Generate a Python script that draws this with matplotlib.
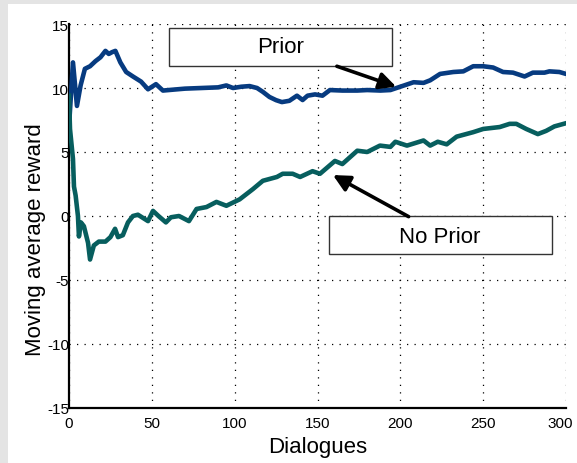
import matplotlib
matplotlib.use("Agg")
import matplotlib.pyplot as plt
import matplotlib.transforms as mtrans
from matplotlib.patches import Rectangle

# ---- data ----
prior_x = [0, 2.4, 4.8, 7, 9.6, 12.7, 16, 19, 22, 24, 26, 28, 31, 34.5, 38.6, 43.5, 47.7,
           52.5, 56.7, 62.8, 70, 80, 90, 95, 99, 104, 109, 113.5, 117, 121, 125, 128.5,
           133, 137.6, 141, 144, 148.5, 153, 157.5, 165, 174, 180, 188, 194, 200, 208,
           214, 218, 224, 232, 238, 244, 250, 256, 262, 268, 275, 280, 287, 290, 296, 300]
prior_y = [7.0, 12.0, 8.6, 10.2, 11.5, 11.7, 12.1, 12.4, 12.9, 12.66, 12.8, 12.9, 12.0,
           11.25, 10.9, 10.5, 9.9, 10.3, 9.8, 9.87, 9.95, 10.0, 10.05, 10.2, 10.0, 10.1,
           10.15, 10.0, 9.7, 9.3, 9.05, 8.9, 9.0, 9.4, 9.06, 9.4, 9.5, 9.4, 9.84, 9.8,
           9.8, 9.84, 9.8, 9.84, 10.1, 10.45, 10.4, 10.6, 11.1, 11.25, 11.3, 11.7, 11.7,
           11.6, 11.25, 11.2, 10.9, 11.2, 11.2, 11.3, 11.25, 11.1]

noprior_x = [0, 0.6, 2.4, 3, 4, 5.4, 6, 7.2, 9, 11.5, 12.7, 15, 18, 22, 25, 27.8, 29.6,
             32.5, 35.6, 38.6, 41.6, 47.7, 50.7, 54, 58.5, 61.5, 66.4, 72.4, 77, 83, 89,
             95, 103, 111, 117, 125.5, 129, 135, 139.5, 147, 151.5, 160.5, 165, 174, 180,
             187.7, 194, 197, 204, 214, 218, 222.6, 228, 234, 244, 250, 260, 266, 270,
             276, 283, 288, 293, 300]
noprior_y = [9.4, 6.8, 4.45, 2.3, 1.6, 0.0, -1.6, -0.5, -0.8, -2.1, -3.4, -2.3, -2.0,
             -2.0, -1.65, -1.0, -1.65, -1.5, -0.5, 0.0, 0.1, -0.4, 0.4, 0.0, -0.5, -0.1,
             0.0, -0.4, 0.55, 0.7, 1.1, 0.8, 1.3, 2.1, 2.75, 3.05, 3.3, 3.3, 3.05, 3.5,
             3.3, 4.3, 4.06, 5.1, 5.0, 5.5, 5.4, 5.8, 5.5, 5.9, 5.5, 5.8, 5.6, 6.2, 6.55,
             6.8, 6.95, 7.2, 7.2, 6.8, 6.4, 6.65, 7.0, 7.25]

x_ticks = [0, 50, 100, 150, 200, 250, 300]
y_ticks = [-15, -10, -5, 0, 5, 10, 15]
x_label = "Dialogues"
y_label = "Moving average reward"
label_prior = "Prior"
label_noprior = "No Prior"

plt.rcParams['font.family'] = ['Liberation Sans', 'DejaVu Sans']

fig = plt.figure(figsize=(5.77, 4.64), dpi=100)
fig.patch.set_facecolor('white')
# light gray frame strips on left and top
fig.patches.append(Rectangle((0, 0), 8 / 577, 1, transform=fig.transFigure,
                             facecolor='#e4e4e4', edgecolor='none', zorder=0))
fig.patches.append(Rectangle((0, 1 - 5 / 464), 1, 5 / 464, transform=fig.transFigure,
                             facecolor='#e4e4e4', edgecolor='none', zorder=0))

ax = fig.add_axes([69 / 577, 1 - 409 / 464, 497 / 577, 384 / 464])
ax.set_facecolor('none')

ax.plot(prior_x, prior_y, color='#073b80', lw=3.3, solid_joinstyle='round', zorder=3)
ax.plot(noprior_x, noprior_y, color='#075e5e', lw=3.3, solid_joinstyle='round', zorder=3)

ax.set_xlim(0, 300)
ax.set_ylim(-15, 15)
ax.set_xticks(x_ticks)
ax.set_yticks(y_ticks)
ax.set_xticklabels([str(t) for t in x_ticks], fontsize=11)
ax.set_yticklabels([str(t) for t in y_ticks], fontsize=11)
ax.tick_params(axis='y', length=0, pad=0)
ax.tick_params(axis='x', length=0, pad=6)
# nudge the last x tick label so it stays inside the figure
last = ax.xaxis.get_major_ticks()[-1].label1
last.set_transform(last.get_transform() +
                   mtrans.ScaledTranslation(-4 / 72, 0, fig.dpi_scale_trans))
for s in ['top', 'right']:
    ax.spines[s].set_visible(False)
for s in ['left', 'bottom']:
    ax.spines[s].set_linewidth(1.6)
    ax.spines[s].set_color('black')
ax.grid(True, color='black', linestyle=(0, (1, 5)), linewidth=0.9)
ax.set_axisbelow(True)

ax.set_xlabel(x_label, fontsize=16, labelpad=4)
ax.set_ylabel(y_label, fontsize=16, labelpad=1)
ax.yaxis.set_label_coords(-0.047, 0.44)

ax.add_patch(Rectangle((60.3, 11.7), 134.6, 3.0, facecolor='white', edgecolor='#333333',
                       linewidth=1.0, zorder=4))
ax.text(127.5, 13.25, label_prior, fontsize=16, ha='center', va='center', zorder=5)
ax.add_patch(Rectangle((156.9, -3.0), 134.6, 3.0, facecolor='white', edgecolor='#333333',
                       linewidth=1.0, zorder=4))
ax.text(224, -1.6, label_noprior, fontsize=16, ha='center', va='center', zorder=5)

arrow = dict(arrowstyle='-|>,head_length=1.0,head_width=0.5', color='black', lw=2.6,
             shrinkA=0, shrinkB=0)
ax.annotate('', xy=(197.5, 10.1), xytext=(161.7, 11.7), arrowprops=arrow, zorder=6)
ax.annotate('', xy=(159.3, 3.2), xytext=(205, -0.05), arrowprops=arrow, zorder=6)

fig.savefig('out.png', dpi=100, facecolor=fig.get_facecolor())
